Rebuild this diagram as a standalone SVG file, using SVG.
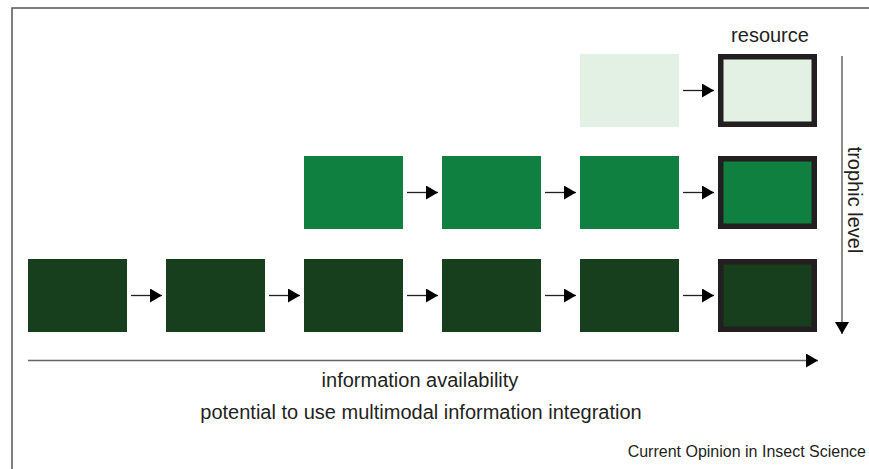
<svg xmlns="http://www.w3.org/2000/svg" width="869" height="469" viewBox="0 0 869 469">
<style>
text{font-family:"Liberation Sans",Arial,sans-serif;fill:#231f20}
.lbl{font-size:20px}
.dark{fill:#173f1e}
.mid{fill:#0f8040}
.light{fill:#e2f1e4}
.res{stroke:#231f20;stroke-width:5.5}
.conn{stroke:#231f20;stroke-width:1.3;fill:none}
.axis{stroke:#666;stroke-width:1.5;fill:none}
</style>
<defs>
<marker id="ah" markerWidth="12" markerHeight="14" refX="12" refY="7" orient="auto" markerUnits="userSpaceOnUse">
<path d="M0,0 L12,7 L0,14 Z" fill="#000"/>
</marker>
</defs>
<rect width="869" height="469" fill="#fff"/>
<path d="M12,469 V8 H869" fill="none" stroke="#555" stroke-width="1.5"/>

<g id="r1c5"><rect class="light" x="580" y="54" width="99" height="73"/></g>
<g id="r1res"><rect class="light res" x="720.75" y="56.75" width="93.5" height="67.5"/></g>

<g id="r2c3"><rect class="mid" x="304" y="156" width="99" height="73"/></g>
<g id="r2c4"><rect class="mid" x="442" y="156" width="99" height="73"/></g>
<g id="r2c5"><rect class="mid" x="580" y="156" width="99" height="73"/></g>
<g id="r2res"><rect class="mid res" x="720.75" y="158.75" width="93.5" height="67.5"/></g>

<g id="r3c1"><rect class="dark" x="28" y="259" width="99" height="73"/></g>
<g id="r3c2"><rect class="dark" x="166" y="259" width="99" height="73"/></g>
<g id="r3c3"><rect class="dark" x="304" y="259" width="99" height="73"/></g>
<g id="r3c4"><rect class="dark" x="442" y="259" width="99" height="73"/></g>
<g id="r3c5"><rect class="dark" x="580" y="259" width="99" height="73"/></g>
<g id="r3res"><rect class="dark res" x="720.75" y="261.75" width="93.5" height="67.5"/></g>

<g id="connectors">
<line class="conn" x1="683" y1="90.5" x2="714" y2="90.5" marker-end="url(#ah)"/>
<line class="conn" x1="407" y1="192.5" x2="438" y2="192.5" marker-end="url(#ah)"/>
<line class="conn" x1="545" y1="192.5" x2="576" y2="192.5" marker-end="url(#ah)"/>
<line class="conn" x1="683" y1="192.5" x2="714" y2="192.5" marker-end="url(#ah)"/>
<line class="conn" x1="131" y1="295.5" x2="162" y2="295.5" marker-end="url(#ah)"/>
<line class="conn" x1="269" y1="295.5" x2="300" y2="295.5" marker-end="url(#ah)"/>
<line class="conn" x1="407" y1="295.5" x2="438" y2="295.5" marker-end="url(#ah)"/>
<line class="conn" x1="545" y1="295.5" x2="576" y2="295.5" marker-end="url(#ah)"/>
<line class="conn" x1="683" y1="295.5" x2="714" y2="295.5" marker-end="url(#ah)"/>
<line class="axis" x1="28" y1="360.5" x2="818" y2="360.5" marker-end="url(#ah)"/>
<line class="axis" x1="842" y1="56" x2="842" y2="334" marker-end="url(#ah)"/>
</g>

<text class="lbl" x="770" y="42" text-anchor="middle">resource</text>
<text class="lbl" transform="translate(848,200) rotate(90)" text-anchor="middle">trophic level</text>
<text class="lbl" x="420" y="387" text-anchor="middle">information availability</text>
<text class="lbl" x="421" y="419" text-anchor="middle">potential to use multimodal information integration</text>
<text x="866" y="457" font-size="16" text-anchor="end">Current Opinion in Insect Science</text>
</svg>
